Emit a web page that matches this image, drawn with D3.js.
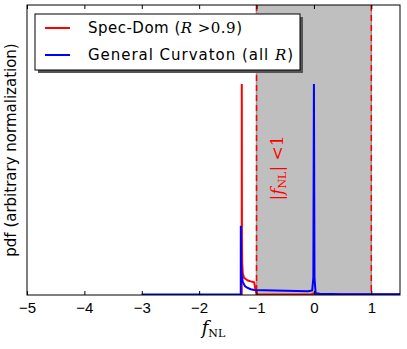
<!doctype html>
<html lang="en">
<head>
  <meta charset="utf-8">
  <title>fNL pdf</title>
  <style>
    * { margin: 0; padding: 0; box-sizing: border-box; }
    body { background: #fff; }
    svg { display: block; font-family: "DejaVu Sans", sans-serif; }
  </style>
</head>
<body>
  <div id="container"></div>
  <script src="https://cdn.jsdelivr.net/npm/d3@7"></script>
  <script>
    // pdf of f_NL, arbitrary normalisation (peak heights)
    const redX = [-1.258, -1.257, -1.255, -1.25, -1.24, -1.22, -1.19, -1.15, -1.1, -1.06, -1.04, -1.02, -1.0, -0.5, -0.05, 0, 0.05, 0.5, 1.0, 1.5];
    const redY = [0.0, 0.728, 0.2, 0.11, 0.075, 0.06, 0.055, 0.05, 0.047, 0.045, 0.043, 0.02, 0.003, 0.002, 0.002, 0.006, 0.002, 0.002, 0.002, 0.002];
    const blueX = [-3.0, -1.275, -1.274, -1.27, -1.26, -1.24, -1.2, -1.15, -1.1, -1.04, -0.5, -0.1, -0.03, -0.01, 0, 0.01, 0.03, 0.1, 0.5, 1.0, 1.5];
    const blueY = [0.002, 0.002, 0.239, 0.12, 0.07, 0.045, 0.03, 0.024, 0.02, 0.017, 0.015, 0.013, 0.016, 0.06, 0.728, 0.06, 0.006, 0.004, 0.003, 0.003, 0.003];
    const band = [-1, 1];
    const xTicks = [-5, -4, -3, -2, -1, 0, 1];

    const W = 407, H = 349;
    const m = {l: 27, r: 7, t: 5, b: 54};
    const x = d3.scaleLinear().domain([-5, 1.5]).range([m.l, W - m.r]);
    const y = d3.scaleLinear().domain([0, 1]).range([H - m.b, m.t]);

    const svg = d3.select('#container').append('svg')
      .attr('width', W).attr('height', H);

    // shaded |fNL|<1 band
    svg.append('rect')
      .attr('x', x(band[0])).attr('y', m.t)
      .attr('width', x(band[1]) - x(band[0]))
      .attr('height', y(0) - m.t)
      .attr('fill', '#bfbfbf');
    band.forEach(b => {
      svg.append('line')
        .attr('x1', x(b)).attr('x2', x(b)).attr('y1', m.t).attr('y2', y(0))
        .attr('stroke', '#999').attr('stroke-width', 1.5);
      svg.append('line')
        .attr('x1', x(b)).attr('x2', x(b)).attr('y1', m.t).attr('y2', y(0))
        .attr('stroke', 'red').attr('stroke-width', 1.5)
        .attr('stroke-dasharray', '6,4');
    });

    const line = d3.line().x(d => x(d[0])).y(d => y(d[1]));
    svg.append('clipPath').attr('id', 'clip').append('rect')
      .attr('x', m.l).attr('y', m.t).attr('width', W - m.l - m.r).attr('height', y(0) - m.t);

    svg.append('path')
      .datum(d3.zip(redX, redY))
      .attr('d', line).attr('fill', 'none')
      .attr('stroke', 'red').attr('stroke-width', 2)
      .attr('clip-path', 'url(#clip)');
    svg.append('path')
      .datum(d3.zip(blueX, blueY))
      .attr('d', line).attr('fill', 'none')
      .attr('stroke', 'blue').attr('stroke-width', 2)
      .attr('clip-path', 'url(#clip)');

    // rotated band label
    const bl = svg.append('text')
      .attr('transform', `translate(${x(-0.54)},168) rotate(-90)`)
      .attr('text-anchor', 'middle')
      .attr('fill', 'red')
      .style('font-family', '"DejaVu Serif", serif')
      .style('font-size', '17px');
    bl.append('tspan').text('|');
    bl.append('tspan').text('f').style('font-style', 'italic');
    bl.append('tspan').text('NL').attr('dy', 3).style('font-size', '11px');
    bl.append('tspan').text('| <1').attr('dy', -3);

    // axes
    const fmt = d => d < 0 ? '\u2212' + Math.abs(d) : d;
    const axB = svg.append('g')
      .attr('transform', `translate(0,${y(0)})`)
      .call(d3.axisBottom(x).tickValues(xTicks).tickFormat(fmt).tickSizeInner(-4).tickSizeOuter(0).tickPadding(7));
    axB.selectAll('text').style('font-size', '15px').attr('fill', '#000');
    const axT = svg.append('g')
      .attr('transform', `translate(0,${m.t})`)
      .call(d3.axisTop(x).tickValues(xTicks).tickFormat('').tickSizeInner(-4).tickSizeOuter(0));
    [axB, axT].forEach(g => {
      g.select('.domain').remove();
      g.selectAll('line').attr('stroke', '#000');
    });
    svg.append('rect')
      .attr('x', m.l).attr('y', m.t)
      .attr('width', W - m.l - m.r).attr('height', y(0) - m.t)
      .attr('fill', 'none').attr('stroke', '#000').attr('stroke-width', 1);

    // axis labels
    svg.append('text')
      .attr('transform', `translate(16,${(m.t + y(0)) / 2}) rotate(-90)`)
      .attr('text-anchor', 'middle')
      .style('font-size', '15px')
      .text('pdf (arbitrary normalization)');
    const xl = svg.append('text')
      .attr('x', (m.l + W - m.r) / 2).attr('y', 334)
      .attr('text-anchor', 'middle')
      .style('font-family', '"DejaVu Serif", serif')
      .style('font-size', '18px');
    xl.append('tspan').text('f').style('font-style', 'italic');
    xl.append('tspan').text('NL').attr('dy', 3).style('font-size', '11px');

    // legend
    const lg = svg.append('g');
    lg.append('rect').attr('x', 38).attr('y', 17).attr('width', 265).attr('height', 56).attr('fill', '#555');
    lg.append('rect').attr('x', 35).attr('y', 14).attr('width', 265).attr('height', 56)
      .attr('fill', '#fff').attr('stroke', '#000').attr('stroke-width', 1);
    const items = [
      {c: 'red', w: 154, parts: [['Spec-Dom (', 0], ['R', 1], [' >0.9', 2], [')', 0]]},
      {c: 'blue', w: 205, parts: [['General Curvaton (all ', 0], ['R', 1], [')', 0]]}
    ];
    items.forEach((it, i) => {
      const yy = 28 + i * 27;
      lg.append('line').attr('x1', 45).attr('x2', 70).attr('y1', yy).attr('y2', yy)
        .attr('stroke', it.c).attr('stroke-width', 2);
      const t = lg.append('text').attr('x', 88).attr('y', yy + 5)
        .attr('textLength', it.w).attr('lengthAdjust', 'spacing')
        .style('font-size', '15px');
      it.parts.forEach(p => {
        const s = t.append('tspan').text(p[0]);
        if (p[1] === 1) s.style('font-family', '"DejaVu Serif", serif').style('font-style', 'italic');
        if (p[1] === 2) s.style('font-family', '"DejaVu Serif", serif');
      });
    });
  </script>
</body>
</html>
